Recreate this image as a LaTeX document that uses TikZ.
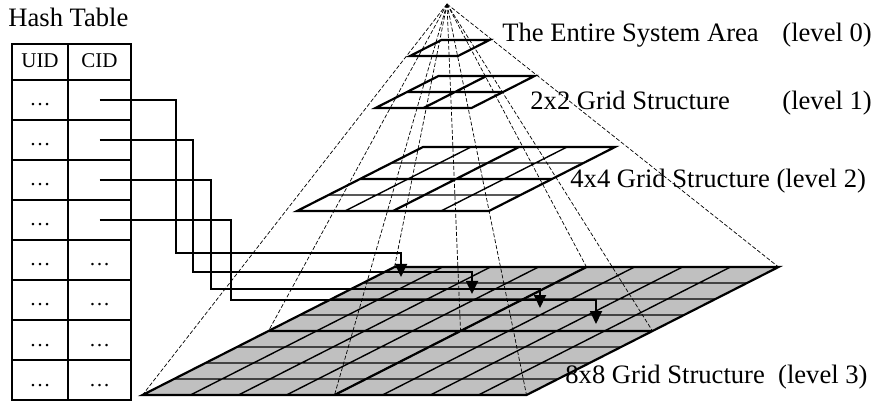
\documentclass[tikz,border=0pt]{standalone}
\usepackage{fontspec}
\setmainfont{Liberation Serif}
\usepackage{xcolor}
\definecolor{gridgray}{RGB}{192,192,192}
\usetikzlibrary{arrows.meta}
\tikzset{
	cellbox/.style={draw, line width=0.9pt, inner sep=0pt, minimum height=20pt, text height=7.2pt, text depth=1.2pt, font=\fontsize{10.5}{12}\selectfont},
	uidcol/.style={cellbox, minimum width=28pt},
	cidcol/.style={cellbox, minimum width=31.5pt},
	levellabel/.style={anchor=base west, inner sep=0pt, font=\fontsize{13.3}{16}\selectfont},
	gridaxes/.style={x={(24pt,0pt)}, y={(15.75pt,8pt)}},
	thinline/.style={line width=0.7pt},
	thickline/.style={line width=1.1pt},
	ray/.style={line width=0.35pt, dash pattern=on 2pt off 1pt},
	link/.style={line width=0.9pt, -{Triangle[length=6.5pt,width=6pt]}},
}

\begin{document}
\begin{tikzpicture}[x=0.5pt, y=-0.5pt, line join=miter]
	\useasboundingbox (0,0) rectangle (876,405);

	% Hash table
	\node[levellabel] (title) at (8,27) {Hash Table};
	\node[uidcol, minimum height=18pt] (uidh) at (40,62) {UID};
	\node[cidcol, minimum height=18pt] (cidh) at (99.5,62) {CID};
	\foreach \r in {1,...,8}
		\node[uidcol] (uid\r) at (40,60+40*\r) {\ldots};
	\foreach \r in {1,...,4}
		\node[cidcol] (cid\r) at (99.5,60+40*\r) {};
	\foreach \r in {5,...,8}
		\node[cidcol] (cid\r) at (99.5,60+40*\r) {\ldots};

	% Level 3 (8x8)
	\begin{scope}[shift={(142.5,395)}, gridaxes]
		\fill[gridgray] (0,0) -- (8,0) -- (8,8) -- (0,8) -- cycle;
		\foreach \k in {1,...,7}
			\draw[thinline] (\k,0) -- (\k,8) (0,\k) -- (8,\k);
		\draw[thickline] (4,0) -- (4,8) (0,4) -- (8,4);
		\draw[thickline] (0,0) -- (8,0) -- (8,8) -- (0,8) -- cycle;
		\foreach \i in {0,4,8}
			\foreach \j in {0,4,8}
				\coordinate (l3-\i-\j) at (\i,\j);
	\end{scope}

	% Level 2 (4x4)
	\begin{scope}[shift={(297,211)}, gridaxes]
		\foreach \k in {1,3}
			\draw[thinline] (\k,0) -- (\k,4) (0,\k) -- (4,\k);
		\draw[thickline] (2,0) -- (2,4) (0,2) -- (4,2);
		\draw[thickline] (0,0) -- (4,0) -- (4,4) -- (0,4) -- cycle;
	\end{scope}

	% Level 1 (2x2)
	\begin{scope}[shift={(375.5,108)}, gridaxes]
		\draw[thickline] (1,0) -- (1,2) (0,1) -- (2,1);
		\draw[thickline] (0,0) -- (2,0) -- (2,2) -- (0,2) -- cycle;
	\end{scope}

	% Level 0
	\begin{scope}[shift={(410,56)}, gridaxes]
		\draw[thickline] (0,0) -- (1,0) -- (1,1) -- (0,1) -- cycle;
	\end{scope}

	% Pyramid rays
	\coordinate (apex) at (447,4);
	\foreach \i in {0,4,8}
		\foreach \j in {0,4,8}
			\draw[ray] (apex) -- (l3-\i-\j);

	% Labels
	\node[levellabel] (lab0) at (502,42) {The Entire System Area};
	\node[levellabel] (lev0) at (782,42) {(level 0)};
	\node[levellabel] (lab1) at (530,110) {2x2 Grid Structure};
	\node[levellabel] (lev1) at (782,110) {(level 1)};
	\node[levellabel] (lab2) at (570,188) {4x4 Grid Structure (level 2)};
	\node[levellabel] (lab3) at (565,383) {8x8 Grid Structure\ \ (level 3)};

	% Links from CID cells to grid cells
	\coordinate (t1) at (401,277);
	\coordinate (t2) at (472,294);
	\coordinate (t3) at (540,308);
	\coordinate (t4) at (596,324);
	\foreach \i/\bx/\by in {1/176/253, 2/193/272, 3/211/289, 4/231/300}
		\draw[link] (cid\i.center) -| (\bx,\by) -| (t\i);
\end{tikzpicture}
\end{document}
